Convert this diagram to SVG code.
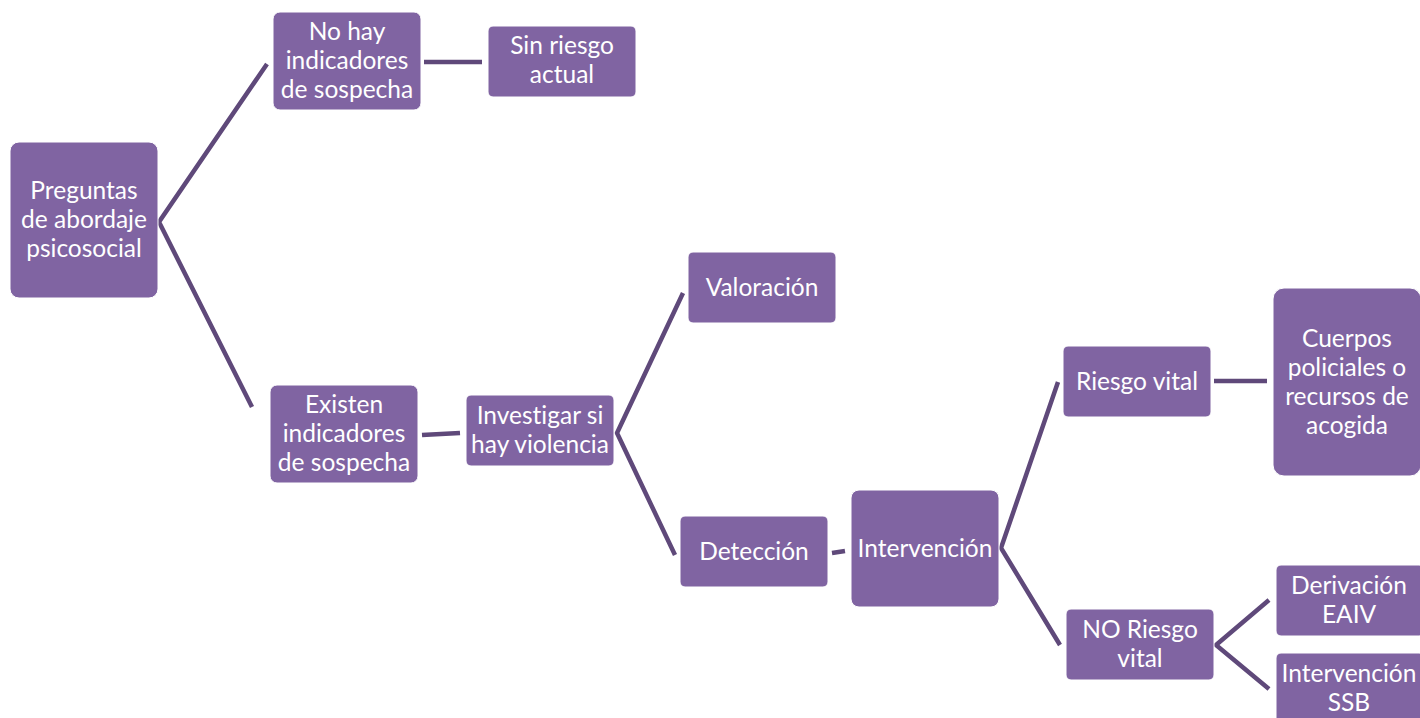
<svg xmlns="http://www.w3.org/2000/svg" width="1420" height="718" viewBox="0 0 1420 718">
<style>
.box{fill:#8064A2;stroke:#ffffff;stroke-width:1}
.lbl{font-family:Lato,"Open Sans",sans-serif;font-size:24.5px;fill:#ffffff;text-anchor:middle;font-variant-ligatures:none;font-feature-settings:"liga" 0,"dlig" 0}
.con{stroke:#5F497A;stroke-width:4.5;fill:none;stroke-linecap:butt;stroke-linejoin:miter}
</style>
<rect width="1420" height="718" fill="#ffffff"/>
<g id="connectors">
<polyline class="con" points="267,64 159,222 252,407"/>
<line class="con" x1="424" y1="62" x2="482" y2="62"/>
<line class="con" x1="422" y1="435" x2="460" y2="433"/>
<polyline class="con" points="683,293 617,433 675,555"/>
<line class="con" x1="832" y1="553" x2="845" y2="551"/>
<polyline class="con" points="1058,382 1001,548 1060,645"/>
<line class="con" x1="1214" y1="381" x2="1267" y2="381"/>
<polyline class="con" points="1269,600 1216,645 1269,689"/>
</g>
<g id="preguntas"><rect class="box" x="10" y="142" width="148" height="156" rx="9"/>
<text class="lbl" x="84" y="199">Preguntas</text><text class="lbl" x="84" y="228">de abordaje</text><text class="lbl" x="84" y="257">psicosocial</text></g>
<g id="no-hay"><rect class="box" x="273" y="12" width="148" height="98" rx="7"/>
<text class="lbl" x="347" y="40">No hay</text><text class="lbl" x="347" y="69">indicadores</text><text class="lbl" x="347" y="98">de sospecha</text></g>
<g id="sin-riesgo"><rect class="box" x="488" y="26" width="148" height="71" rx="5"/>
<text class="lbl" x="562" y="54">Sin riesgo</text><text class="lbl" x="562" y="83">actual</text></g>
<g id="existen"><rect class="box" x="270" y="385" width="148" height="98" rx="7"/>
<text class="lbl" x="344" y="413">Existen</text><text class="lbl" x="344" y="442">indicadores</text><text class="lbl" x="344" y="471">de sospecha</text></g>
<g id="investigar"><rect class="box" x="466" y="395" width="148" height="71" rx="5"/>
<text class="lbl" x="540" y="424">Investigar si</text><text class="lbl" x="540" y="453">hay violencia</text></g>
<g id="valoracion"><rect class="box" x="688" y="252" width="148" height="71" rx="5"/>
<text class="lbl" x="762" y="296">Valoración</text></g>
<g id="deteccion"><rect class="box" x="680" y="516" width="148" height="71" rx="5"/>
<text class="lbl" x="754" y="560">Detección</text></g>
<g id="intervencion"><rect class="box" x="851" y="490" width="148" height="117" rx="8"/>
<text class="lbl" x="925" y="557">Intervención</text></g>
<g id="riesgo-vital"><rect class="box" x="1063" y="346" width="148" height="71" rx="5"/>
<text class="lbl" x="1137" y="390">Riesgo vital</text></g>
<g id="cuerpos"><rect class="box" x="1273" y="288" width="148" height="188" rx="11"/>
<text class="lbl" x="1347" y="347">Cuerpos</text><text class="lbl" x="1347" y="376">policiales o</text><text class="lbl" x="1347" y="405">recursos de</text><text class="lbl" x="1347" y="434">acogida</text></g>
<g id="no-riesgo"><rect class="box" x="1066" y="609" width="148" height="71" rx="5"/>
<text class="lbl" x="1140" y="638">NO Riesgo</text><text class="lbl" x="1140" y="667">vital</text></g>
<g id="derivacion"><rect class="box" x="1276" y="565" width="148" height="71" rx="5"/>
<text class="lbl" x="1349" y="594">Derivación</text><text class="lbl" x="1349" y="623">EAIV</text></g>
<g id="ssb"><rect class="box" x="1276" y="653" width="148" height="71" rx="5"/>
<text class="lbl" x="1349" y="682">Intervención</text><text class="lbl" x="1349" y="711">SSB</text></g>
</svg>
